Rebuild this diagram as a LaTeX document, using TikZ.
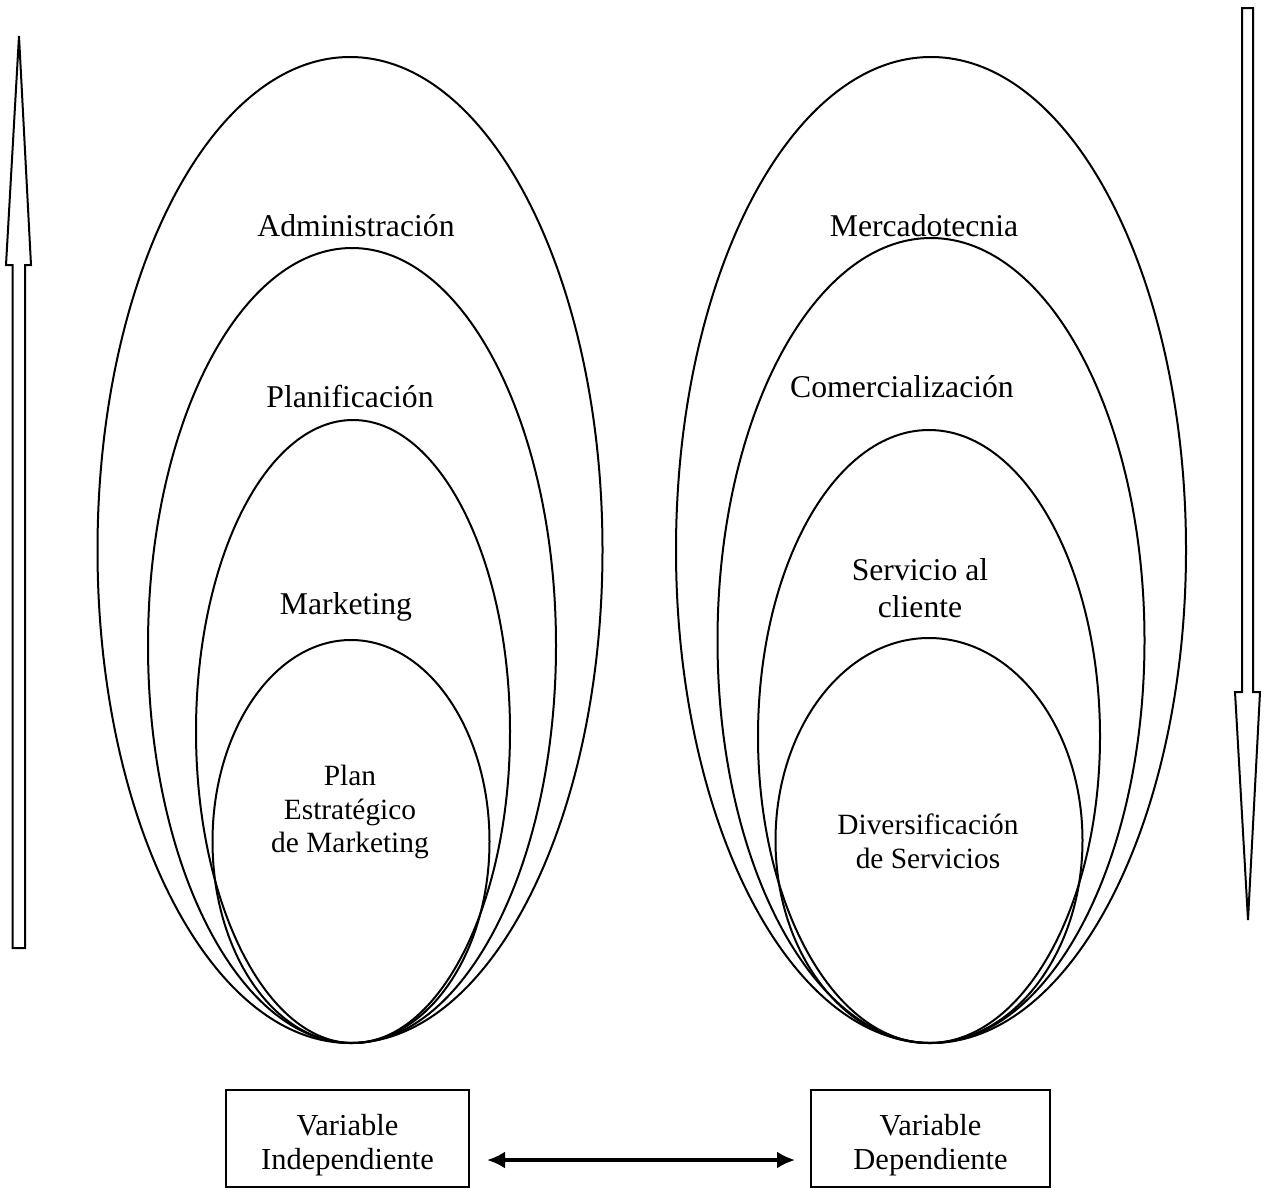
\documentclass[tikz,border=0pt]{standalone}
\usepackage{fontspec}
\setmainfont{Liberation Serif}
\usetikzlibrary{shapes.geometric,arrows.meta}
\begin{document}
\begin{tikzpicture}[x=1pt,y=-1pt,
  ring/.style={draw,line width=2pt,ellipse,inner sep=0pt},
  big/.style={font=\fontsize{31.7}{36.5}\selectfont,align=center,inner sep=0pt},
  small/.style={font=\fontsize{29.4}{33.8}\selectfont,align=center,inner sep=0pt},
  varbox/.style={draw,line width=2pt,rectangle,minimum width=243pt,minimum height=97pt,inner sep=0pt},
  boxtext/.style={font=\fontsize{30.5}{34}\selectfont,align=center,inner sep=0pt},
  hollow/.style={draw,line width=2pt,fill=white,line join=miter}]
\useasboundingbox (0,0) rectangle (1269,1189);

% left family of nested ellipses, all touching at the bottom
\node[ring,minimum width=505pt,minimum height=986pt] (l1) at (350,550) {};
\node[ring,minimum width=408pt,minimum height=795pt] (l2) at (352,645.5) {};
\node[ring,minimum width=314pt,minimum height=623pt] (l3) at (353,731.5) {};
\node[ring,minimum width=277pt,minimum height=403pt] (l4) at (351,841.5) {};

% right family of nested ellipses
\node[ring,minimum width=510pt,minimum height=986pt] (r1) at (931,550) {};
\node[ring,minimum width=427pt,minimum height=805pt] (r2) at (931,640.5) {};
\node[ring,minimum width=342pt,minimum height=613pt] (r3) at (929,736.5) {};
\node[ring,minimum width=307pt,minimum height=405pt] (r4) at (929,840.5) {};

% labels
\node[big] (tadm) at (356,226) {Administración};
\node[big] (tpla) at (350,396) {Planificación};
\node[big] (tmkt) at (346,607) {Marketing};
\node[small] (tpem) at (350,812) {Plan\\Estratégico\\de Marketing};
\node[big] (tmer) at (924,226) {Mercadotecnia};
\node[big] (tcom) at (902,387) {Comercialización};
\node[big] (tser) at (920,588) {Servicio al\\cliente};
\node[small] (tdiv) at (928,841) {Diversificación\\de Servicios};

% variable boxes and the link between them
\node[varbox] (vi) at (347.5,1138.5) {};
\node[varbox,minimum width=239pt] (vd) at (930.5,1138.5) {};
\node[boxtext] (vit) at (347.5,1145) {Variable\\Independiente};
\node[boxtext] (vdt) at (930.5,1145) {Variable\\Dependiente};
\draw[line width=3.2pt,{Latex[length=18pt,width=17pt]}-{Latex[length=18pt,width=17pt]},
  shorten <=17pt,shorten >=15pt] (vi.east |- 0,1160) -- (vd.west |- 0,1160);

% hollow upward arrow on the left
\draw[hollow] (19,36) -- (31,265) -- (25,265) -- (25,948) -- (12.5,948)
  -- (12.5,265) -- (6,265) -- cycle;
% hollow downward arrow on the right
\draw[hollow] (1242,8) -- (1253,8) -- (1253,692) -- (1260,692) -- (1248,920)
  -- (1235,692) -- (1242,692) -- cycle;
\end{tikzpicture}
\end{document}
